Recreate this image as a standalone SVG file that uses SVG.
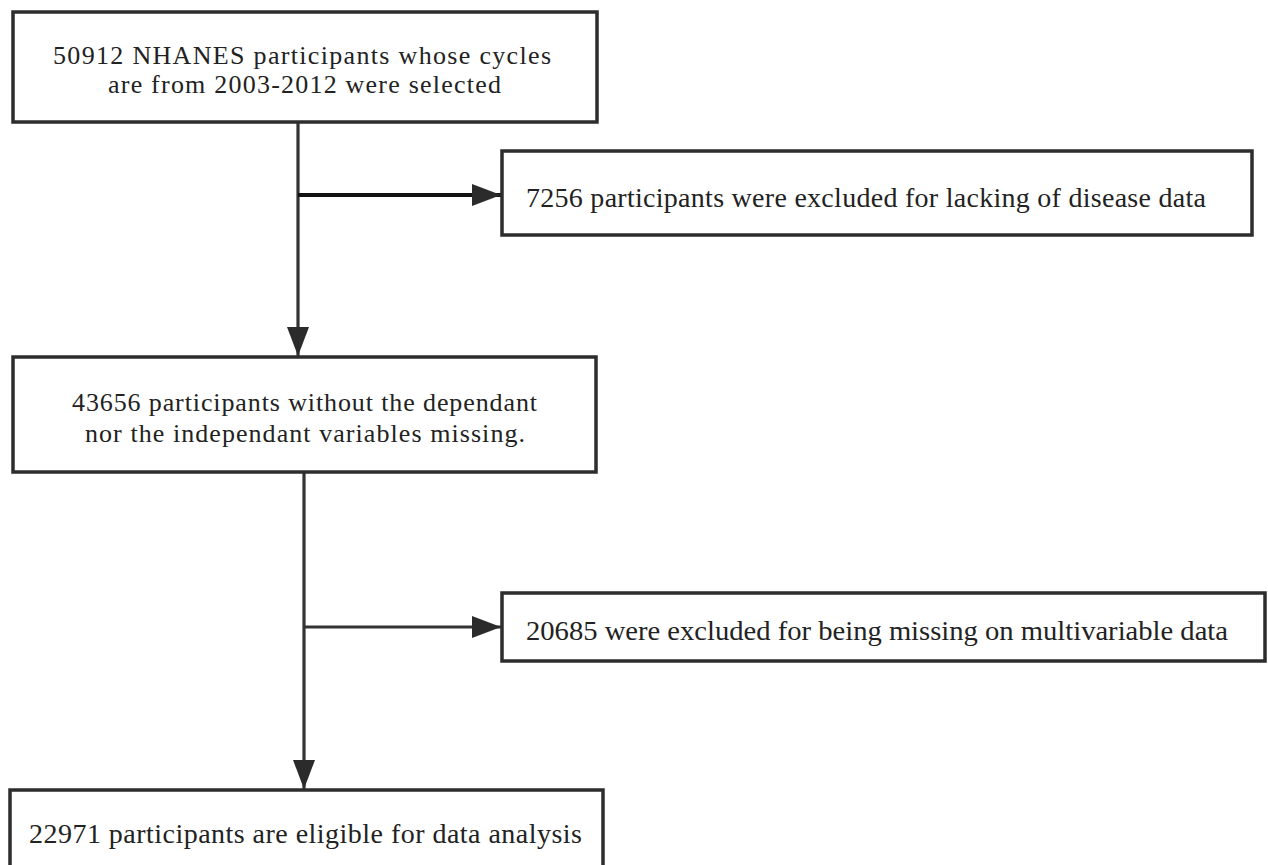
<svg xmlns="http://www.w3.org/2000/svg" width="1268" height="865" viewBox="0 0 1268 865">
<style>
.box{fill:#fff;stroke:#2d2d2d;stroke-width:3.5}
.t{font-family:"Liberation Serif","Times New Roman",serif;fill:#222}
.t26{font-size:26px}
.t28{font-size:28px}
.ln{fill:none;stroke:#333;stroke-width:3.2}
.ln2{fill:none;stroke:#111;stroke-width:4}
</style>
<defs>
<marker id="ah" markerUnits="userSpaceOnUse" markerWidth="30" markerHeight="23" refX="29" refY="11" orient="auto">
<path d="M0,0 L29,11 L0,22 Z" fill="#2b2b2b"/>
</marker>
</defs>
<rect width="1268" height="865" fill="#fff"/>
<g id="connectors">
<line class="ln" x1="298" y1="122" x2="298" y2="356" marker-end="url(#ah)"/>
<line class="ln2" x1="298" y1="195" x2="501" y2="195" marker-end="url(#ah)"/>
<line class="ln" x1="304" y1="472" x2="304" y2="789" marker-end="url(#ah)"/>
<line class="ln" x1="304" y1="627" x2="501" y2="627" marker-end="url(#ah)"/>
</g>
<g id="node1">
<rect class="box" x="13" y="12" width="584" height="110"/>
<text class="t t26" x="53" y="64" textLength="498" lengthAdjust="spacing">50912 NHANES participants whose cycles</text>
<text class="t t26" x="108" y="93" textLength="393" lengthAdjust="spacing">are from 2003-2012 were selected</text>
</g>
<g id="node2">
<rect class="box" x="502" y="151" width="750" height="84"/>
<text class="t t28" x="526" y="207" textLength="680" lengthAdjust="spacing">7256 participants were excluded for lacking of disease data</text>
</g>
<g id="node3">
<rect class="box" x="13" y="357" width="583" height="115"/>
<text class="t t26" x="72" y="411" textLength="465" lengthAdjust="spacing">43656 participants without the dependant</text>
<text class="t t26" x="85" y="442" textLength="440" lengthAdjust="spacing">nor the independant variables missing.</text>
</g>
<g id="node4">
<rect class="box" x="502" y="593" width="763" height="68"/>
<text class="t t28" x="526" y="640" textLength="702" lengthAdjust="spacingAndGlyphs">20685 were excluded for being missing on multivariable data</text>
</g>
<g id="node5">
<rect class="box" x="10" y="790" width="593" height="90"/>
<text class="t t28" x="29" y="843" textLength="553" lengthAdjust="spacing">22971 participants are eligible for data analysis</text>
</g>
</svg>
